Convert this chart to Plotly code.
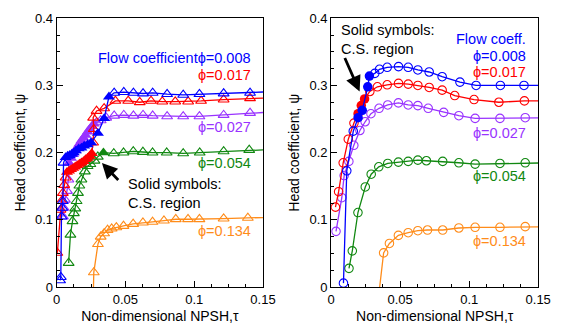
import plotly.graph_objects as go

# ---------------- DATA ----------------
# Left panel (triangles); flags: 1 = solid symbol (C.S. region)
L_b_tau = [0.0025, 0.003, 0.0035, 0.004, 0.0045, 0.005,
           0.0065, 0.008, 0.0095, 0.011, 0.0125, 0.014, 0.016, 0.018, 0.020, 0.0225, 0.025, 0.030, 0.0345, 0.038,
           0.0418, 0.0488, 0.0558, 0.0628, 0.0698, 0.0803, 0.092, 0.1038, 0.1214, 0.1406, 0.16]
L_b_psi = [0.010, 0.015, 0.105, 0.118, 0.128, 0.185,
           0.193, 0.195, 0.196, 0.198, 0.200, 0.203, 0.206, 0.207, 0.210, 0.212, 0.215, 0.229, 0.251, 0.283,
           0.289, 0.290, 0.289, 0.288, 0.289, 0.287, 0.286, 0.287, 0.288, 0.289, 0.291]
L_b_solid = [0] * 6 + [1] * 14 + [0] * 11

L_r_tau = [0.0005, 0.0028, 0.0035, 0.0045, 0.0055, 0.0065,
           0.0075, 0.009, 0.0105, 0.012, 0.0135, 0.015, 0.0165, 0.018, 0.0195, 0.021, 0.0225, 0.024, 0.0255,
           0.0265, 0.027, 0.0265, 0.029, 0.0345, 0.0427, 0.052, 0.0604, 0.0686, 0.0768, 0.0862, 0.0956, 0.105,
           0.1214, 0.1406, 0.16]
L_r_psi = [0.051, 0.115, 0.128, 0.140, 0.152, 0.163,
           0.171, 0.173, 0.175, 0.177, 0.179, 0.181, 0.183, 0.185, 0.187, 0.190, 0.192, 0.195, 0.199,
           0.215, 0.235, 0.252, 0.262, 0.266, 0.277, 0.277, 0.275, 0.277, 0.276, 0.276, 0.276, 0.277,
           0.279, 0.281, 0.282]
L_r_solid = [0] * 6 + [1] * 13 + [0] * 16

L_p_tau = [0.0045, 0.005, 0.006, 0.0075, 0.0085,
           0.009, 0.0105, 0.012, 0.0135, 0.015, 0.0165, 0.018, 0.0195, 0.021, 0.0225, 0.024, 0.0255, 0.027,
           0.029, 0.032, 0.036, 0.0418, 0.0488, 0.0558, 0.0628, 0.0698, 0.0803, 0.092, 0.1038, 0.1214, 0.1406, 0.16]
L_p_psi = [0.105, 0.118, 0.130, 0.143, 0.160,
           0.185, 0.192, 0.198, 0.203, 0.208, 0.213, 0.218, 0.222, 0.226, 0.231, 0.235, 0.239, 0.243,
           0.245, 0.248, 0.252, 0.255, 0.256, 0.255, 0.256, 0.255, 0.254, 0.254, 0.254, 0.256, 0.259, 0.261]
L_p_solid = [0] * 5 + [1] * 13 + [0] * 14

L_g_tau = [0.0087, 0.0100, 0.0115, 0.0125, 0.0135, 0.0145, 0.0155, 0.0165, 0.0180, 0.0205, 0.0225, 0.0245,
           0.0275, 0.0299, 0.034, 0.0415, 0.0486, 0.0557, 0.0627, 0.0697, 0.080, 0.092, 0.104, 0.1214, 0.140, 0.16]
L_g_psi = [0.036, 0.078, 0.098, 0.110, 0.117, 0.128, 0.140, 0.151, 0.160, 0.172, 0.180, 0.183,
           0.188, 0.194, 0.200, 0.199, 0.200, 0.202, 0.201, 0.200, 0.200, 0.199, 0.200, 0.202, 0.204, 0.205]
L_g_solid = [0] * 14 + [1] + [0] * 11

L_o_tau = [0.0265, 0.027, 0.030, 0.032, 0.0345, 0.037, 0.040, 0.0434, 0.0486, 0.0556, 0.0627, 0.0697,
           0.078, 0.0866, 0.0955, 0.1038, 0.1214, 0.139, 0.16]
L_o_psi = [-0.02, 0.022, 0.064, 0.075, 0.080, 0.085, 0.087, 0.089, 0.091, 0.094, 0.096, 0.097,
           0.099, 0.101, 0.101, 0.101, 0.102, 0.103, 0.104]
L_o_solid = [0] * 19

# Right panel (circles)
R_b_tau = [0.0089, 0.0113, 0.016, 0.0195, 0.0225, 0.0265, 0.0277, 0.0316, 0.0350, 0.0406, 0.0488, 0.0558,
           0.0628, 0.071, 0.0804, 0.0933, 0.105, 0.1226, 0.1397, 0.16]
R_b_psi = [0.006, 0.173, 0.232, 0.252, 0.263, 0.298, 0.314, 0.318, 0.324, 0.327, 0.328, 0.327,
           0.323, 0.320, 0.313, 0.305, 0.300, 0.300, 0.300, 0.300]
R_b_solid = [0, 0, 0, 1, 1, 1, 1] + [0] * 13

R_r_tau = [0.0031, 0.0054, 0.0087, 0.0124, 0.0165, 0.0195, 0.0218, 0.0242, 0.028, 0.0335, 0.0406, 0.0488,
           0.0558, 0.0628, 0.071, 0.0804, 0.0895, 0.1035, 0.1215, 0.14, 0.16]
R_r_psi = [0.119, 0.142, 0.185, 0.220, 0.244, 0.258, 0.270, 0.280, 0.291, 0.298, 0.301, 0.303,
           0.302, 0.300, 0.297, 0.293, 0.285, 0.279, 0.275, 0.277, 0.277]
R_r_solid = [0] * 5 + [1] * 3 + [0] * 13

R_p_tau = [0.0035, 0.0077, 0.0094, 0.0128, 0.0164, 0.0208, 0.0246, 0.0288, 0.0347, 0.041, 0.0487, 0.0558,
           0.0628, 0.0703, 0.0815, 0.0925, 0.1043, 0.1223, 0.1406, 0.16]
R_p_psi = [0.083, 0.133, 0.166, 0.187, 0.211, 0.233, 0.246, 0.258, 0.266, 0.271, 0.274, 0.271,
           0.270, 0.266, 0.260, 0.255, 0.251, 0.251, 0.252, 0.252]
R_p_solid = [0] * 20

R_g_tau = [0.0129, 0.0153, 0.0194, 0.0247, 0.029, 0.0345, 0.041, 0.0487, 0.0558, 0.0628, 0.0690, 0.0808,
           0.0925, 0.1043, 0.1223, 0.1406, 0.16]
R_g_psi = [0.028, 0.054, 0.111, 0.149, 0.168, 0.179, 0.184, 0.186, 0.187, 0.189, 0.188, 0.187,
           0.185, 0.183, 0.184, 0.185, 0.185]
R_g_solid = [0] * 17

R_o_tau = [0.034, 0.038, 0.0422, 0.0487, 0.0558, 0.0628, 0.0698, 0.0808, 0.0925, 0.1043, 0.1223, 0.1406, 0.16]
R_o_psi = [-0.02, 0.051, 0.065, 0.077, 0.081, 0.084, 0.085, 0.085, 0.088, 0.089, 0.089, 0.090, 0.090]
R_o_solid = [0] * 13

phi_labels = ["ϕ=0.008", "ϕ=0.017", "ϕ=0.027", "ϕ=0.054", "ϕ=0.134"]
x_ticks = [0, 0.05, 0.1, 0.15]
x_ticktext = ["0", "0.05", "0.1", "0.15"]
y_ticks = [0, 0.1, 0.2, 0.3, 0.4]
y_ticktext = ["0", "0.1", "0.2", "0.3", "0.4"]

# ---------------- STYLE ----------------
BLUE, RED, PURPLE, GREEN, ORANGE = "#0000FF", "#FF0000", "#9933FF", "#118811", "#FF8C1A"
FONT = "Liberation Sans, Arial, sans-serif"

fig = go.Figure()


def add_series(tau, psi, solid, color, sym, xa, ya, size):
    fig.add_trace(go.Scatter(x=tau, y=psi, mode="lines", line=dict(color=color, width=1.3),
                             xaxis=xa, yaxis=ya, showlegend=False, hoverinfo="skip"))
    ox = [t for t, s in zip(tau, solid) if not s]
    oy = [p for p, s in zip(psi, solid) if not s]
    fig.add_trace(go.Scatter(x=ox, y=oy, mode="markers",
                             marker=dict(symbol=sym + "-open", size=size, color=color, line=dict(width=1.1, color=color)),
                             xaxis=xa, yaxis=ya, showlegend=False))
    sx = [t for t, s in zip(tau, solid) if s]
    sy = [p for p, s in zip(psi, solid) if s]
    if sx:
        fig.add_trace(go.Scatter(x=sx, y=sy, mode="markers",
                                 marker=dict(symbol=sym, size=size + 1, color=color, line=dict(width=0)),
                                 xaxis=xa, yaxis=ya, showlegend=False))


left = [(L_o_tau, L_o_psi, L_o_solid, ORANGE), (L_g_tau, L_g_psi, L_g_solid, GREEN),
        (L_p_tau, L_p_psi, L_p_solid, PURPLE), (L_r_tau, L_r_psi, L_r_solid, RED),
        (L_b_tau, L_b_psi, L_b_solid, BLUE)]
for t, p, s, c in left:
    add_series(t, p, s, c, "triangle-up", "x", "y", 9.5)

right = [(R_o_tau, R_o_psi, R_o_solid, ORANGE), (R_g_tau, R_g_psi, R_g_solid, GREEN),
         (R_p_tau, R_p_psi, R_p_solid, PURPLE), (R_r_tau, R_r_psi, R_r_solid, RED),
         (R_b_tau, R_b_psi, R_b_solid, BLUE)]
for t, p, s, c in right:
    add_series(t, p, s, c, "circle", "x2", "y2", 8.5)

ax_common = dict(showgrid=False, zeroline=False, showline=True, linecolor="black", linewidth=1, mirror=True,
                 ticks="inside", ticklen=6, tickcolor="black", tickwidth=1,
                 tickfont=dict(family=FONT, size=13, color="black"))
xax = dict(ax_common, range=[0, 0.15], tickvals=x_ticks, ticktext=x_ticktext,
           minor=dict(dtick=0.0125, ticklen=3, ticks="inside", tickcolor="black"),
           title=dict(text="Non-dimensional NPSH,τ", font=dict(family=FONT, size=14, color="black"), standoff=5))
yax = dict(ax_common, range=[0, 0.4], tickvals=y_ticks, ticktext=y_ticktext,
           minor=dict(dtick=0.025, ticklen=3, ticks="inside", tickcolor="black"),
           title=dict(text="Head coefficient, ψ", font=dict(family=FONT, size=14, color="black"), standoff=6))

fig.update_layout(
    width=568, height=335, margin=dict(l=0, r=0, t=0, b=0),
    paper_bgcolor="white", plot_bgcolor="white",
    xaxis=dict(xax, domain=[0.0956, 0.470], anchor="y"),
    yaxis=dict(yax, domain=[0.1245, 0.965], anchor="x"),
    xaxis2=dict(xax, domain=[0.5938, 0.9695], anchor="y2"),
    yaxis2=dict(yax, domain=[0.1245, 0.965], anchor="x2"),
)

def txt(text, x, y, color, xr, yr, xanchor="right", align="right"):
    fig.add_annotation(text=text, x=x, y=y, xref=xr, yref=yr, showarrow=False, xanchor=xanchor,
                       yanchor="middle", align=align, font=dict(family=FONT, size=14.5, color=color))

colors = [BLUE, RED, PURPLE, GREEN, ORANGE]
# left labels
txt("Flow coefficient" + phi_labels[0], 0.1425, 0.341, BLUE, "x", "y")
for lab, c, yy in zip(phi_labels[1:], colors[1:], [0.3156, 0.2377, 0.185, 0.0828]):
    txt(lab, 0.1425, yy, c, "x", "y")
txt("Solid symbols:<br>C.S. region", 0.0505, 0.1396, "black", "x", "y", xanchor="left", align="left")
# right labels
txt("Flow coeff.", 0.1425, 0.3697, BLUE, "x2", "y2")
for lab, c, yy in zip(phi_labels, colors, [0.344, 0.320, 0.229, 0.165, 0.0686]):
    txt(lab, 0.1425, yy, c, "x2", "y2")
txt("Solid symbols:<br>C.S. region", 0.0059, 0.368, "black", "x2", "y2", xanchor="left", align="left")

# arrows
fig.add_annotation(x=0.0329, y=0.1847, ax=0.0458, ay=0.157, xref="x", yref="y", axref="x", ayref="y",
                   showarrow=True, arrowhead=2, arrowsize=1.1, arrowwidth=2.8, arrowcolor="black", text="")
fig.add_annotation(x=0.0206, y=0.291, ax=0.0094, ay=0.343, xref="x2", yref="y2", axref="x2", ayref="y2",
                   showarrow=True, arrowhead=2, arrowsize=1.1, arrowwidth=2.8, arrowcolor="black", text="")

fig.write_html("out.html")
